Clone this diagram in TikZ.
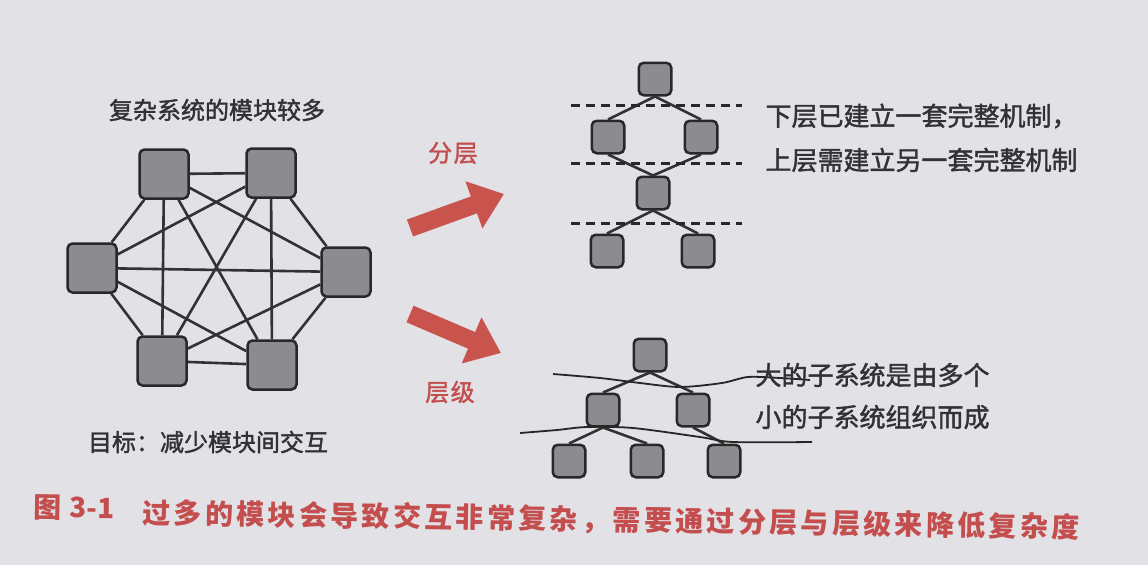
\documentclass[tikz,border=0pt]{standalone}
\usepackage{fontspec}
\setmainfont{Liberation Sans}
\newfontfamily\cjk{Noto Sans CJK SC}
\newfontfamily\cjkmid[FakeBold=1.6]{Noto Sans CJK SC}
\usetikzlibrary{positioning, arrows.meta}
\definecolor{paper}{RGB}{226,225,229}
\definecolor{boxgray}{RGB}{140,139,142}
\definecolor{boxline}{RGB}{40,40,43}
\definecolor{inkgray}{RGB}{50,50,53}
\definecolor{redarrow}{RGB}{201,84,78}
\definecolor{redtext}{RGB}{196,78,78}
\tikzset{
  module/.style={draw=boxline, fill=boxgray, line width=2.5pt, rounded corners=5pt, minimum size=49pt, inner sep=0pt},
  smallmod/.style={module, minimum size=32.5pt},
  link/.style={draw=inkgray, line width=2.6pt},
  layerline/.style={draw=boxline, line width=3pt, dash pattern=on 9pt off 6pt},
  pen/.style={draw=black!85, line width=1.8pt},
  note/.style={text=inkgray, anchor=west, font=\cjkmid\fontsize{26}{30}\selectfont},
  redlabel/.style={text=redtext, font=\cjkmid\fontsize{24}{28}\selectfont\addfontfeature{LetterSpace=6}},
  bigarrow/.style={draw=redarrow, line width=18pt, -{Triangle[length=32pt,width=48pt]}}
}

\begin{document}
\begin{tikzpicture}[x=1pt,y=-1pt]
\fill[paper] (0,0) rectangle (1148,565);
\useasboundingbox (0,0) rectangle (1148,565);

% many modules, all linked
\node[text=inkgray, font=\cjkmid\fontsize{24}{28}\selectfont] (title) at (217,110) {复杂系统的模块较多};
\node[module] (tl) at (164,174) {};
\node[module] (tr) at (271,173) {};
\node[module] (l) at (92,268) {};
\node[module] (r) at (346,272) {};
\node[module] (bl) at (162,361) {};
\node[module] (br) at (272,365) {};
\foreach \a/\b in {tl/tr,tl/l,tl/r,tl/bl,tl/br,tr/l,tr/r,tr/bl,tr/br,l/r,l/bl,l/br,r/bl,r/br,bl/br}
  \draw[link] (\a) -- (\b);
\node[text=inkgray, font=\cjkmid\fontsize{24}{28}\selectfont] (goal) at (208,442) {目标：减少模块间交互};

% arrows
\coordinate (uptail) at (410,228);
\coordinate (uptip) at (504,194);
\coordinate (downtail) at (410,314);
\coordinate (downtip) at (501,353);
\draw[bigarrow] (uptail) -- (uptip);
\draw[bigarrow] (downtail) -- (downtip);
\node[redlabel] (fenceng) at (453,153) {分层};
\node[redlabel] (cengji) at (450,392) {层级};

% layers
\node[smallmod] (a1) at (655,79) {};
\node[smallmod] (a2) at (608,137) {};
\node[smallmod] (a3) at (701,137) {};
\node[smallmod] (a4) at (653,193) {};
\node[smallmod] (a5) at (607,251) {};
\node[smallmod] (a6) at (698,251) {};
\foreach \a/\b in {a1/a2,a1/a3,a2/a4,a3/a4,a4/a5,a4/a6}
  \draw[link] (\a.south) -- (\b.north);
\foreach \y in {105,163,223}
  \draw[layerline] (571,\y) -- (742,\y);
\node[note] (lower) at (762,116) {下层已建立一套完整机制，};
\node[note] (upper) at (762,160) {上层需建立另一套完整机制};

% levels
\node[smallmod] (b1) at (650,355) {};
\node[smallmod] (b2) at (603,410) {};
\node[smallmod] (b3) at (693,410) {};
\node[smallmod] (b4) at (569,461) {};
\node[smallmod] (b5) at (647,461) {};
\node[smallmod] (b6) at (724,461) {};
\foreach \a/\b in {b1/b2,b1/b3,b2/b4,b2/b5,b3/b6}
  \draw[link] (\a.south) -- (\b.north);
\draw[pen] plot[smooth] coordinates {(553,374) (600,378) (640,383) (680,387) (722,383) (748,377) (780,378) (810,380)};
\draw[pen] plot[smooth] coordinates {(520,433) (557,430) (587,427) (633,428) (700,437) (733,442) (812,442)};
\node[note] (big) at (752,375) {大的子系统是由多个};
\node[note] (small) at (752,417) {小的子系统组织而成};

% caption
\node[anchor=west, text=redtext, rotate=-0.9, font=\cjk\bfseries\fontsize{28}{32}\selectfont] (fig) at (30,507) {图\hspace{8pt}3-1};
\node[anchor=west, text=redtext, rotate=-0.9, font=\cjk\bfseries\fontsize{28}{32}\selectfont\addfontfeature{LetterSpace=12}] (caption) at (139,513) {过多的模块会导致交互非常复杂，需要通过分层与层级来降低复杂度};
\end{tikzpicture}
\end{document}
